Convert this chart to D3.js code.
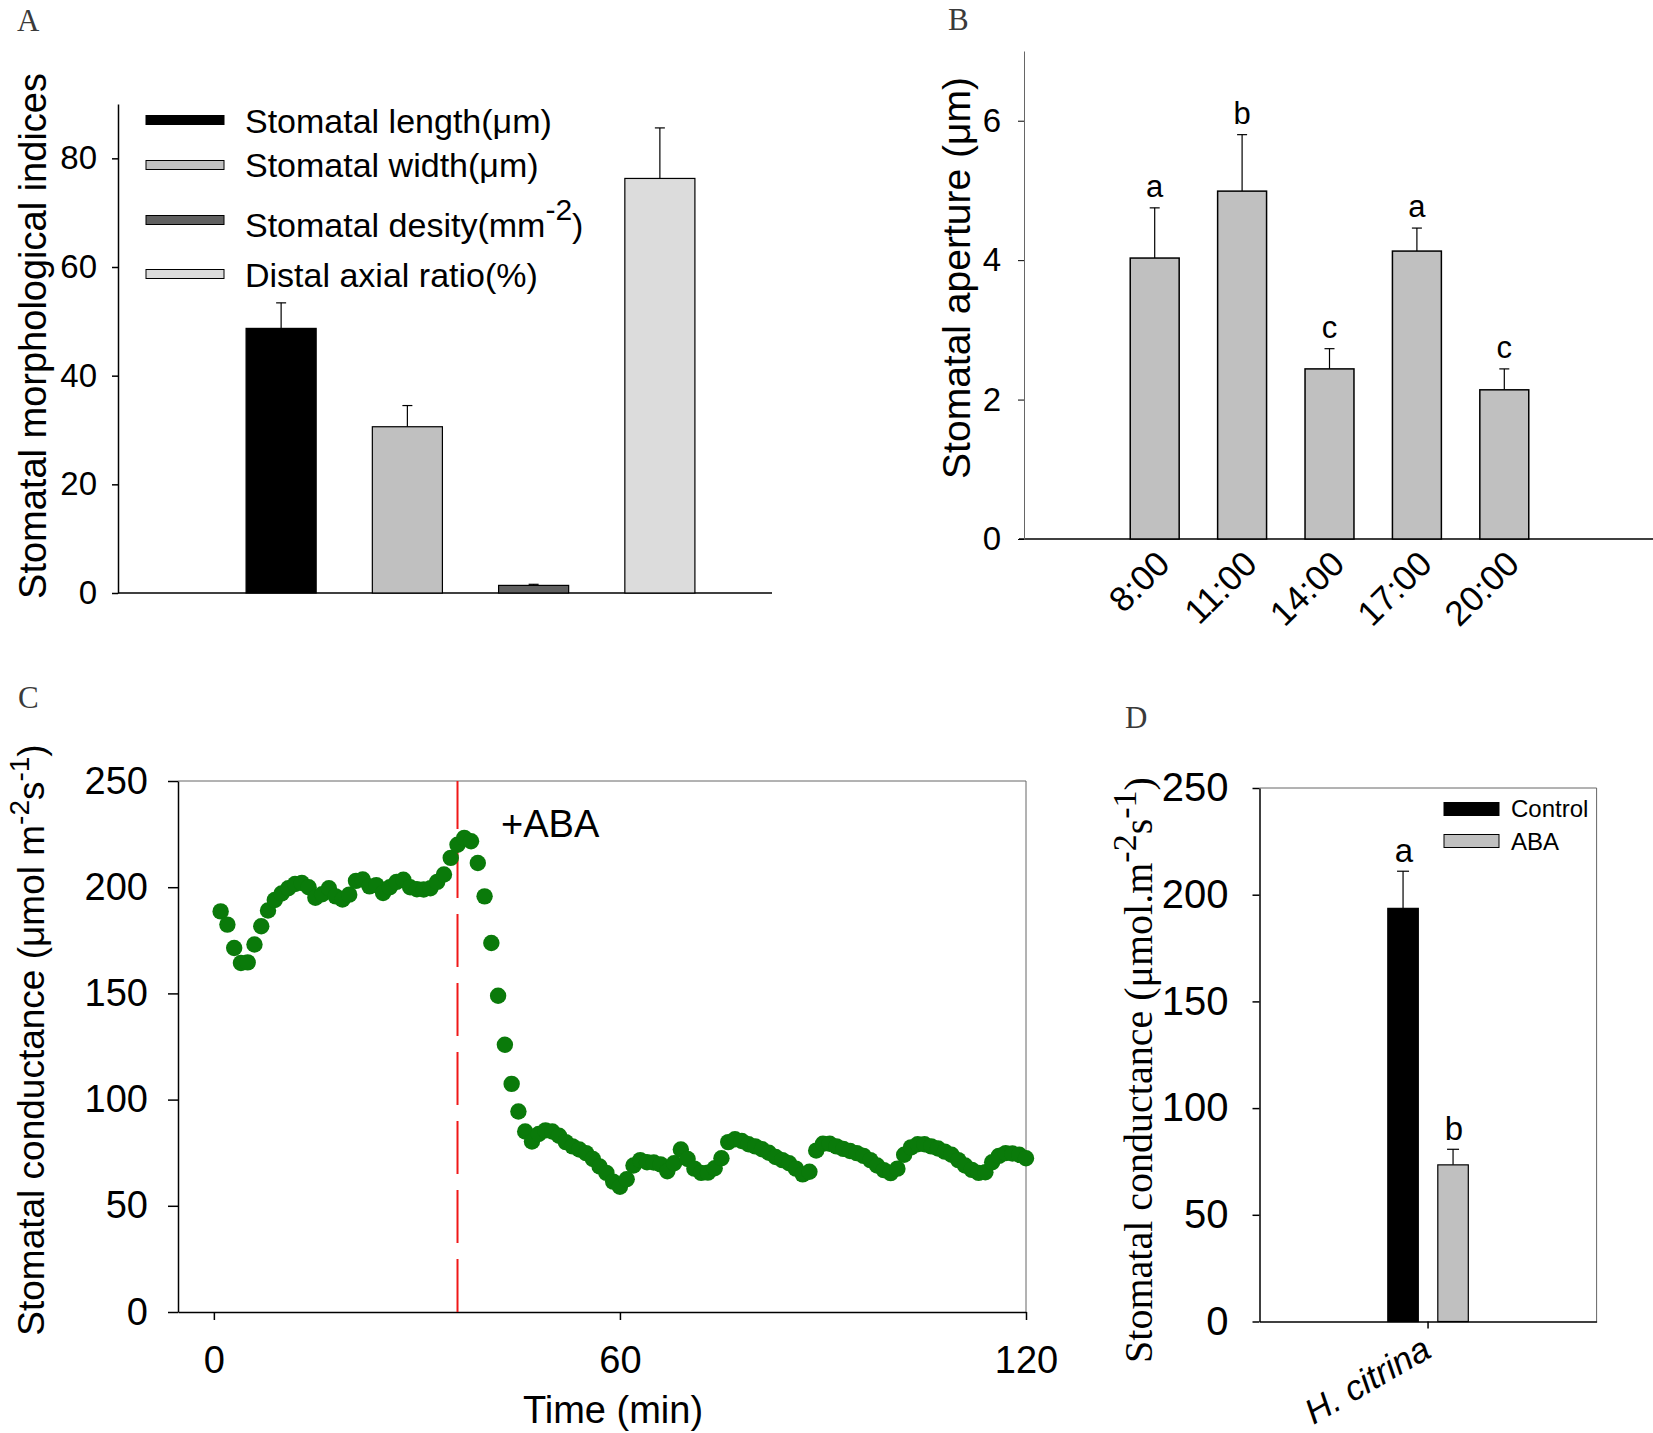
<!DOCTYPE html>
<html>
<head>
<meta charset="utf-8">
<script src="https://cdn.jsdelivr.net/npm/d3@7"></script>
<style>
  html, body { margin: 0; padding: 0; background: #fff; }
  svg { display: block; }
  text { font-family: "Liberation Sans", Arial, sans-serif; fill: #000; }
  .serif { font-family: "Liberation Serif", "Times New Roman", serif; }
</style>
</head>
<body>
<svg id="chart" width="1653" height="1433"></svg>
<script>
// ---------------- DATA ----------------
// Panel A
const catsA = ["Stomatal length(μm)", "Stomatal width(μm)", "Stomatal desity(mm-2)", "Distal axial ratio(%)"];
const meansA = [48.7, 30.6, 1.4, 76.3];
const errsA  = [4.7, 3.9, 0.2, 9.3];
const ticksA = [0, 20, 40, 60, 80];

// Panel B
const catsB = ["8:00", "11:00", "14:00", "17:00", "20:00"];
const meansB = [4.03, 4.99, 2.44, 4.13, 2.14];
const errsB  = [0.72, 0.81, 0.29, 0.33, 0.30];
const lettersB = ["a", "b", "c", "a", "c"];
const ticksB = [0, 2, 4, 6];

// Panel C : stomatal conductance, one reading per minute (1..120 min)
const conductanceC = [
  188.6, 182.4, 171.4, 164.3, 164.6, 173.0, 181.6, 189.0, 194.0, 197.0,
  199.5, 201.5, 202.0, 200.0, 195.0, 196.7, 199.5, 195.7, 194.2, 196.5,
  203.0, 203.6, 200.4, 201.0, 197.3, 200.0, 202.5, 203.5, 200.0, 199.0,
  198.9, 199.5, 202.5, 206.0, 213.8, 220.0, 223.2, 221.6, 211.4, 195.7,
  173.7, 148.9, 125.8, 107.4, 94.4, 85.0, 80.3, 83.8, 85.5, 85.0,
  83.0, 80.0, 78.0, 76.5, 74.8, 72.0, 68.5, 65.5, 61.4, 59.0,
  62.5, 69.0, 71.5, 70.5, 70.4, 69.5, 66.3, 70.0, 76.5, 72.0,
  67.5, 65.5, 65.6, 67.7, 72.4, 80.0, 81.3, 80.5, 79.0, 78.0,
  76.6, 75.0, 73.0, 71.5, 70.0, 67.5, 64.8, 66.0, 76.0, 79.2,
  79.2, 78.0, 76.8, 75.8, 74.8, 73.5, 71.5, 69.0, 66.8, 65.4,
  67.5, 74.0, 77.5, 79.0, 79.0, 78.0, 77.0, 75.5, 74.0, 71.5,
  69.0, 66.9, 65.5, 65.8, 70.5, 73.5, 74.8, 74.6, 74.0, 72.4
];
const minutesC = conductanceC.map((v, i) => i + 1);
const abaTimeC = 36;
const ticksCx = [0, 60, 120];
const ticksCy = [0, 50, 100, 150, 200, 250];

// Panel D
const groupD = ["H. citrina"];
const seriesD = ["Control", "ABA"];
const meansD = [193.6, 73.4];
const errsD  = [17.4, 7.3];
const lettersD = ["a", "b"];
const ticksD = [0, 50, 100, 150, 200, 250];

// ---------------- DRAW ----------------
const svg = d3.select("#chart");
svg.append("rect").attr("width", 1653).attr("height", 1433).attr("fill", "#fff");

function styleAxis(g, fs, sw) {
  g.selectAll("text").style("font-size", fs + "px").style("font-family", '"Liberation Sans", Arial, sans-serif').attr("fill", "#000");
  g.selectAll("line").attr("stroke", "#000").attr("stroke-width", sw);
  g.select(".domain").attr("stroke", "#000").attr("stroke-width", sw);
}

function panelLabel(txt, x, y) {
  svg.append("text").attr("class", "serif").attr("x", x).attr("y", y)
    .style("font-size", "31px").style("fill", "#3a3a3a").text(txt);
}

// ===== Panel A =====
const yA = d3.scaleLinear().domain([0, 90]).range([593, 104]);
const xA = d3.scaleBand().domain(catsA).range([218, 723]).paddingInner(0.445).paddingOuter(0.2225);
const fillsA = ["#000000", "#c0c0c0", "#606060", "#dcdcdc"];
const gA = svg.append("g");
gA.append("line").attr("x1", 118).attr("x2", 772).attr("y1", yA(0)).attr("y2", yA(0)).attr("stroke", "#000").attr("stroke-width", 1.5);
const axA = gA.append("g").attr("transform", "translate(118,0)")
  .call(d3.axisLeft(yA).tickValues(ticksA).tickFormat(d3.format("d")).tickSize(6).tickSizeOuter(0).tickPadding(15));
styleAxis(axA, 33, 1.5);
catsA.forEach((c, i) => {
  const cx = xA(c) + xA.bandwidth() / 2;
  gA.append("line").attr("x1", cx).attr("x2", cx).attr("y1", yA(meansA[i])).attr("y2", yA(meansA[i] + errsA[i])).attr("stroke", "#000").attr("stroke-width", 1.2);
  gA.append("line").attr("x1", cx - 5).attr("x2", cx + 5).attr("y1", yA(meansA[i] + errsA[i])).attr("y2", yA(meansA[i] + errsA[i])).attr("stroke", "#000").attr("stroke-width", 1.2);
});
gA.selectAll("rect.bar").data(catsA).join("rect").attr("class", "bar")
  .attr("x", d => xA(d)).attr("width", xA.bandwidth())
  .attr("y", (d, i) => yA(meansA[i])).attr("height", (d, i) => yA(0) - yA(meansA[i]))
  .attr("fill", (d, i) => fillsA[i]).attr("stroke", "#000").attr("stroke-width", 1.2);
const legYA = [120, 165, 220, 274];
const legBaseA = [133, 177, 237, 287];
catsA.forEach((c, i) => {
  gA.append("rect").attr("x", 146).attr("y", legYA[i] - 4.5).attr("width", 78).attr("height", 9)
    .attr("fill", fillsA[i]).attr("stroke", "#000").attr("stroke-width", 1);
  const t = gA.append("text").attr("x", 245).attr("y", legBaseA[i]).style("font-size", "34px");
  if (c.indexOf("mm-2") >= 0) {
    t.append("tspan").text("Stomatal desity(mm");
    t.append("tspan").attr("dy", -17).style("font-size", "30px").text("-2");
    t.append("tspan").attr("dy", 17).text(")");
  } else {
    t.text(c);
  }
});
gA.append("text").attr("transform", "translate(46,336) rotate(-90)").attr("text-anchor", "middle")
  .style("font-size", "38px").text("Stomatal morphological indices");
panelLabel("A", 17, 31);

// ===== Panel B =====
const yB = d3.scaleLinear().domain([0, 7]).range([539, 51]);
const xB = d3.scaleBand().domain(catsB).range([1111, 1548]).paddingInner(0.44).paddingOuter(0.22);
const gB = svg.append("g");
gB.append("line").attr("x1", 1019).attr("x2", 1653).attr("y1", yB(0)).attr("y2", yB(0)).attr("stroke", "#000").attr("stroke-width", 1.5);
const axB = gB.append("g").attr("transform", "translate(1024,0)")
  .call(d3.axisLeft(yB).tickValues(ticksB).tickFormat(d3.format("d")).tickSize(6).tickSizeOuter(0).tickPadding(17));
styleAxis(axB, 33, 1);
axB.select(".domain").attr("stroke", "#666");
catsB.forEach((c, i) => {
  const cx = xB(c) + xB.bandwidth() / 2;
  const top = yB(meansB[i] + errsB[i]);
  gB.append("line").attr("x1", cx).attr("x2", cx).attr("y1", yB(meansB[i])).attr("y2", top).attr("stroke", "#000").attr("stroke-width", 1.2);
  gB.append("line").attr("x1", cx - 5).attr("x2", cx + 5).attr("y1", top).attr("y2", top).attr("stroke", "#000").attr("stroke-width", 1.2);
  gB.append("text").attr("x", cx).attr("y", top - 11).attr("text-anchor", "middle").style("font-size", "31px").text(lettersB[i]);
  gB.append("text").attr("transform", `translate(${cx + 17},566) rotate(-45)`).attr("text-anchor", "end")
    .style("font-size", "35px").text(c);
});
gB.selectAll("rect.bar").data(catsB).join("rect").attr("class", "bar")
  .attr("x", d => xB(d)).attr("width", xB.bandwidth())
  .attr("y", (d, i) => yB(meansB[i])).attr("height", (d, i) => yB(0) - yB(meansB[i]))
  .attr("fill", "#c0c0c0").attr("stroke", "#000").attr("stroke-width", 1.5);
gB.append("text").attr("transform", "translate(970,278) rotate(-90)").attr("text-anchor", "middle")
  .style("font-size", "39px").text("Stomatal aperture (μm)");
panelLabel("B", 948, 30);

// ===== Panel C =====
const xC = d3.scaleLinear().domain([-5.3, 120]).range([178, 1026]);
const yC = d3.scaleLinear().domain([0, 250]).range([1312, 781]);
const gC = svg.append("g");
gC.append("line").attr("x1", 178).attr("x2", 1026).attr("y1", 781).attr("y2", 781).attr("stroke", "#666").attr("stroke-width", 1);
gC.append("line").attr("x1", 1026).attr("x2", 1026).attr("y1", 781).attr("y2", 1312).attr("stroke", "#666").attr("stroke-width", 1);
const axCy = gC.append("g").attr("transform", "translate(178,0)")
  .call(d3.axisLeft(yC).tickValues(ticksCy).tickSize(10).tickSizeOuter(0).tickPadding(20));
styleAxis(axCy, 38, 1.5);
const axCx = gC.append("g").attr("transform", "translate(0,1312)")
  .call(d3.axisBottom(xC).tickValues(ticksCx).tickSize(8).tickSizeOuter(0).tickPadding(26));
styleAxis(axCx, 38, 1.5);
gC.append("line").attr("x1", xC(abaTimeC)).attr("x2", xC(abaTimeC)).attr("y1", yC(0)).attr("y2", yC(250))
  .attr("stroke", "#f01818").attr("stroke-width", 2).attr("stroke-dasharray", "53,16");
gC.selectAll("circle").data(conductanceC).join("circle")
  .attr("cx", (d, i) => xC(minutesC[i])).attr("cy", d => yC(d)).attr("r", 8.2)
  .attr("fill", "#0a7a0a");
gC.append("text").attr("x", 501).attr("y", 837).style("font-size", "38px").text("+ABA");
const tC = gC.append("text").attr("transform", "translate(44,1040) rotate(-90)").attr("text-anchor", "middle").style("font-size", "37px");
tC.append("tspan").text("Stomatal conductance (μmol m");
tC.append("tspan").attr("dy", -15).style("font-size", "28px").text("-2");
tC.append("tspan").attr("dy", 15).text("s");
tC.append("tspan").attr("dy", -15).style("font-size", "28px").text("-1");
tC.append("tspan").attr("dy", 15).text(")");
gC.append("text").attr("x", 613).attr("y", 1423).attr("text-anchor", "middle").style("font-size", "38px").text("Time (min)");
panelLabel("C", 18, 708);

// ===== Panel D =====
const yD = d3.scaleLinear().domain([0, 250]).range([1321.5, 788]);
const xD = d3.scaleBand().domain(groupD).range([1259.5, 1596.6]);
const xDsub = d3.scaleBand().domain(seriesD).range([-50, 50]).paddingInner(0.39).paddingOuter(0.195);
const fillsD = ["#000000", "#c0c0c0"];
const gD = svg.append("g");
gD.append("line").attr("x1", 1259.5).attr("x2", 1596.6).attr("y1", 788).attr("y2", 788).attr("stroke", "#666").attr("stroke-width", 1);
gD.append("line").attr("x1", 1596.6).attr("x2", 1596.6).attr("y1", 788).attr("y2", 1321.5).attr("stroke", "#666").attr("stroke-width", 1);
const axDy = gD.append("g").attr("transform", "translate(1259.5,0)")
  .call(d3.axisLeft(yD).tickValues(ticksD).tickSize(7).tickSizeOuter(0).tickPadding(24));
styleAxis(axDy, 40, 1.5);
const axDx = gD.append("g").attr("transform", "translate(0,1321.5)")
  .call(d3.axisBottom(xD).tickSize(7).tickSizeOuter(0).tickFormat(""));
styleAxis(axDx, 30, 1.5);
const cD = xD(groupD[0]) + xD.bandwidth() / 2;
seriesD.forEach((s, i) => {
  const x0 = cD + xDsub(s);
  const cx = x0 + xDsub.bandwidth() / 2;
  const top = yD(meansD[i] + errsD[i]);
  gD.append("line").attr("x1", cx).attr("x2", cx).attr("y1", yD(meansD[i])).attr("y2", top).attr("stroke", "#000").attr("stroke-width", 1.2);
  gD.append("line").attr("x1", cx - 6).attr("x2", cx + 6).attr("y1", top).attr("y2", top).attr("stroke", "#000").attr("stroke-width", 1.2);
  gD.append("rect").attr("x", x0).attr("width", xDsub.bandwidth())
    .attr("y", yD(meansD[i])).attr("height", yD(0) - yD(meansD[i]))
    .attr("fill", fillsD[i]).attr("stroke", "#000").attr("stroke-width", 1.2);
  gD.append("text").attr("x", cx + 1).attr("y", top - 9).attr("text-anchor", "middle").style("font-size", "33px").text(lettersD[i]);
});
const legYD = [809, 841];
const legBaseD = [817, 850];
seriesD.forEach((s, i) => {
  gD.append("rect").attr("x", 1444).attr("y", legYD[i] - 6.5).attr("width", 55).attr("height", 13)
    .attr("fill", fillsD[i]).attr("stroke", "#000").attr("stroke-width", 1);
  gD.append("text").attr("x", 1511).attr("y", legBaseD[i]).style("font-size", "24px").text(s);
});
gD.append("text").attr("transform", `translate(1433,1356) rotate(-30)`).attr("text-anchor", "end")
  .style("font-size", "35px").style("font-style", "italic").text(groupD[0]);
const tD = gD.append("text").attr("class", "serif").attr("transform", "translate(1152,1070) rotate(-90)").attr("text-anchor", "middle").style("font-size", "40px");
tD.append("tspan").text("Stomatal conductance (μmol.m");
tD.append("tspan").attr("dy", -16).style("font-size", "34px").text("-2");
tD.append("tspan").attr("dy", 16).text("s");
tD.append("tspan").attr("dy", -16).style("font-size", "34px").text("-1");
tD.append("tspan").attr("dy", 16).text(")");
panelLabel("D", 1125, 728);
</script>
</body>
</html>
